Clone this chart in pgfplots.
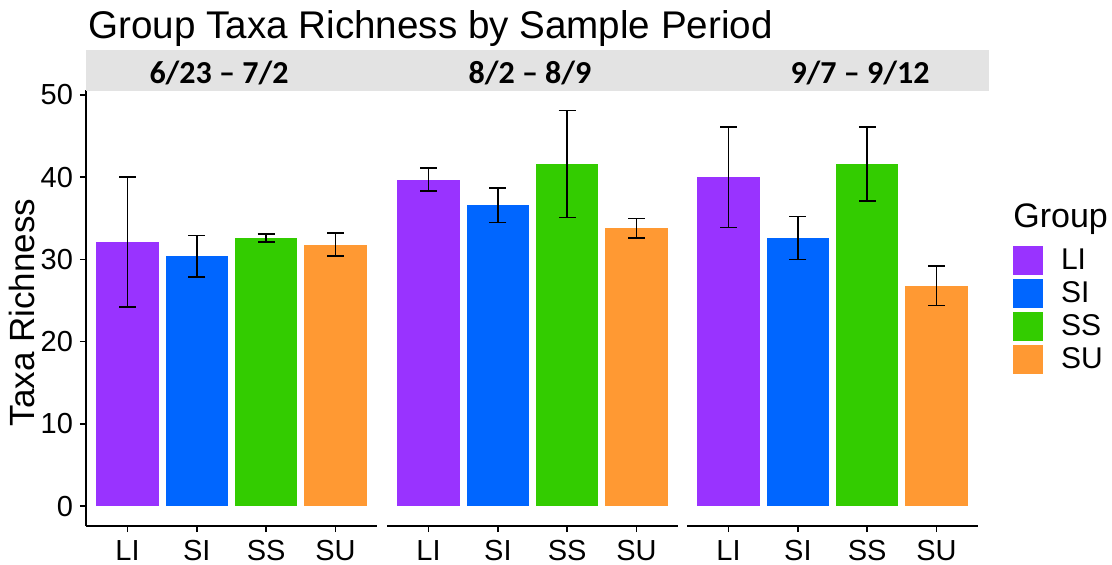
\documentclass[border=0pt]{standalone}
\usepackage{fontspec}
\setmainfont{Liberation Sans}
\newfontfamily\stripfont{Carlito}
\usepackage{pgfplots}
\pgfplotsset{compat=1.18}

\definecolor{colLI}{RGB}{153,51,255}
\definecolor{colSI}{RGB}{0,102,255}
\definecolor{colSS}{RGB}{51,204,0}
\definecolor{colSU}{RGB}{255,153,51}
\definecolor{stripgray}{RGB}{227,227,227}

\pgfplotsset{
  panel/.style={
    scale only axis, width=145.5pt, height=218pt,
    xmin=0.4, xmax=4.6, ymin=-2.41, ymax=50.6,
    ybar, bar width=0.9, bar shift=0pt,
    axis x line*=bottom,
    xtick={1,2,3,4}, xticklabels={LI,SI,SS,SU},
    tick align=outside, major tick length=3pt,
    tick style={black, line width=0.7pt},
    axis line style={black, line width=0.7pt, -},
    ticklabel style={font=\fontsize{14.5}{16}\selectfont, text=black},
    xticklabel style={yshift=-0.5pt},
    error bars/y dir=both, error bars/y explicit,
    error bars/error bar style={draw=black, line width=0.8pt},
    error bars/error mark options={draw=black, line width=0.8pt, mark size=4.2pt, rotate=90},
    /pgf/number format/assume math mode=true,
  },
}

\begin{document}
\begin{tikzpicture}
\useasboundingbox (0,0) rectangle (556pt,282pt);

% panel 1: 6/23 - 7/2
\begin{axis}[panel, at={(43pt,19pt)},
    axis y line*=left,
    ytick={0,10,20,30,40,50},
    ylabel={Taxa Richness},
    ylabel style={at={(axis description cs:-0.22,0.49)}, rotate=0, anchor=center,
                  font=\fontsize{17.5}{20}\selectfont},
]
\addplot[fill=colLI, draw=none] coordinates {(1,32.1) +- (0,7.9)};
\addplot[fill=colSI, draw=none] coordinates {(2,30.4) +- (0,2.5)};
\addplot[fill=colSS, draw=none] coordinates {(3,32.6) +- (0,0.5)};
\addplot[fill=colSU, draw=none] coordinates {(4,31.8) +- (0,1.4)};
\end{axis}

% panel 2: 8/2 - 8/9
\begin{axis}[panel, at={(193.5pt,19pt)}, axis y line=none]
\addplot[fill=colLI, draw=none] coordinates {(1,39.7) +- (0,1.4)};
\addplot[fill=colSI, draw=none] coordinates {(2,36.6) +- (0,2.1)};
\addplot[fill=colSS, draw=none] coordinates {(3,41.6) +- (0,6.5)};
\addplot[fill=colSU, draw=none] coordinates {(4,33.8) +- (0,1.2)};
\end{axis}

% panel 3: 9/7 - 9/12
\begin{axis}[panel, at={(343.5pt,19pt)}, axis y line=none,
    legend style={at={(1.1203,0.6422)}, anchor=north west, draw=none, fill=none,
                  inner sep=0pt, outer sep=0pt, row sep=2pt, column sep=9pt,
                  font=\fontsize{15}{17}\selectfont, cells={anchor=west},
                  nodes={inner sep=0pt}},
    legend image code/.code={\fill[#1, draw=none] (0pt,-7.25pt) rectangle (15pt,7.25pt);},
]
\addplot[fill=colLI, draw=none] coordinates {(1,40.0) +- (0,6.1)};
\addplot[fill=colSI, draw=none] coordinates {(2,32.6) +- (0,2.6)};
\addplot[fill=colSS, draw=none] coordinates {(3,41.6) +- (0,4.5)};
\addplot[fill=colSU, draw=none] coordinates {(4,26.8) +- (0,2.4)};
\legend{LI,SI,SS,SU}
\end{axis}

% facet strip
\fill[stripgray] (43pt,236.5pt) rectangle (494.3pt,256.8pt);
\begin{scope}[every node/.style={font=\stripfont\bfseries\fontsize{16}{19}\selectfont, inner sep=0pt}]
\node at (109.5pt,245.5pt) {6/23 – 7/2};
\node at (265pt,245.5pt) {8/2 – 8/9};
\node at (430pt,245.5pt) {9/7 – 9/12};
\end{scope}

% title and legend title
\node[anchor=base west, inner sep=0pt, font=\fontsize{19.3}{22}\selectfont] at (44pt,263pt)
  {Group Taxa Richness by Sample Period};
\node[anchor=base west, inner sep=0pt, font=\fontsize{17}{20}\selectfont] at (506.5pt,168.5pt)
  {Group};
\end{tikzpicture}
\end{document}
